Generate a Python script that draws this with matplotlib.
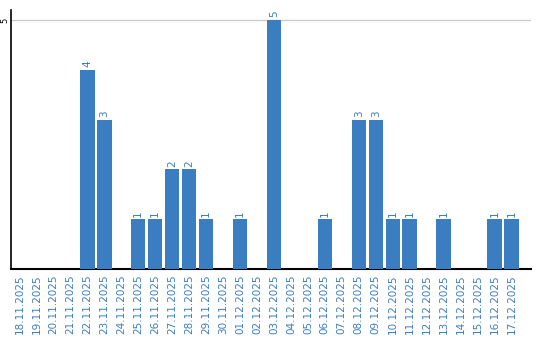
import matplotlib
matplotlib.use('Agg')
import matplotlib.pyplot as plt
import numpy as np

datas = ['18.11.2025', '19.11.2025', '20.11.2025', '21.11.2025', '22.11.2025',
         '23.11.2025', '24.11.2025', '25.11.2025', '26.11.2025', '27.11.2025',
         '28.11.2025', '29.11.2025', '30.11.2025', '01.12.2025', '02.12.2025',
         '03.12.2025', '04.12.2025', '05.12.2025', '06.12.2025', '07.12.2025',
         '08.12.2025', '09.12.2025', '10.12.2025', '11.12.2025', '12.12.2025',
         '13.12.2025', '14.12.2025', '15.12.2025', '16.12.2025', '17.12.2025']
valores = [0, 0, 0, 0, 4, 3, 0, 1, 1, 2, 2, 1, 0, 1, 0,
           5, 0, 0, 1, 0, 3, 3, 1, 1, 0, 1, 0, 0, 1, 1]

azul = '#3b7dc1'

fig = plt.figure(figsize=(5.4, 3.4), dpi=100)
ax = fig.add_axes([11/540, 1-269/340, 520/540, 259/340])

x = np.arange(len(datas))
ax.bar(x, valores, width=0.85, color=azul, zorder=3)
for xi, v in zip(x, valores):
    if v > 0:
        ax.text(xi, v + 0.05, str(v), rotation=90, ha='center', va='bottom',
                color=azul, fontsize=7.5)

ax.set_xlim(-0.5, 30.15)
ax.set_ylim(0, 5.2)
ax.set_yticks([5])
ax.set_yticklabels(['5'], rotation=90, va='center', fontsize=6)
ax.yaxis.grid(True, color='#cccccc', linewidth=1, zorder=0)
ax.set_xticks(x)
ax.set_xticklabels(datas, rotation=90, color=azul, fontsize=7.5)
ax.tick_params(axis='both', length=0, pad=4)
ax.tick_params(axis='y', pad=1)
for s in ['top', 'right']:
    ax.spines[s].set_visible(False)
ax.spines['left'].set_color('black')
ax.spines['bottom'].set_color('black')
ax.spines['bottom'].set_linewidth(1.5)
ax.spines['left'].set_linewidth(1.2)

fig.savefig('out.png', dpi=100)
